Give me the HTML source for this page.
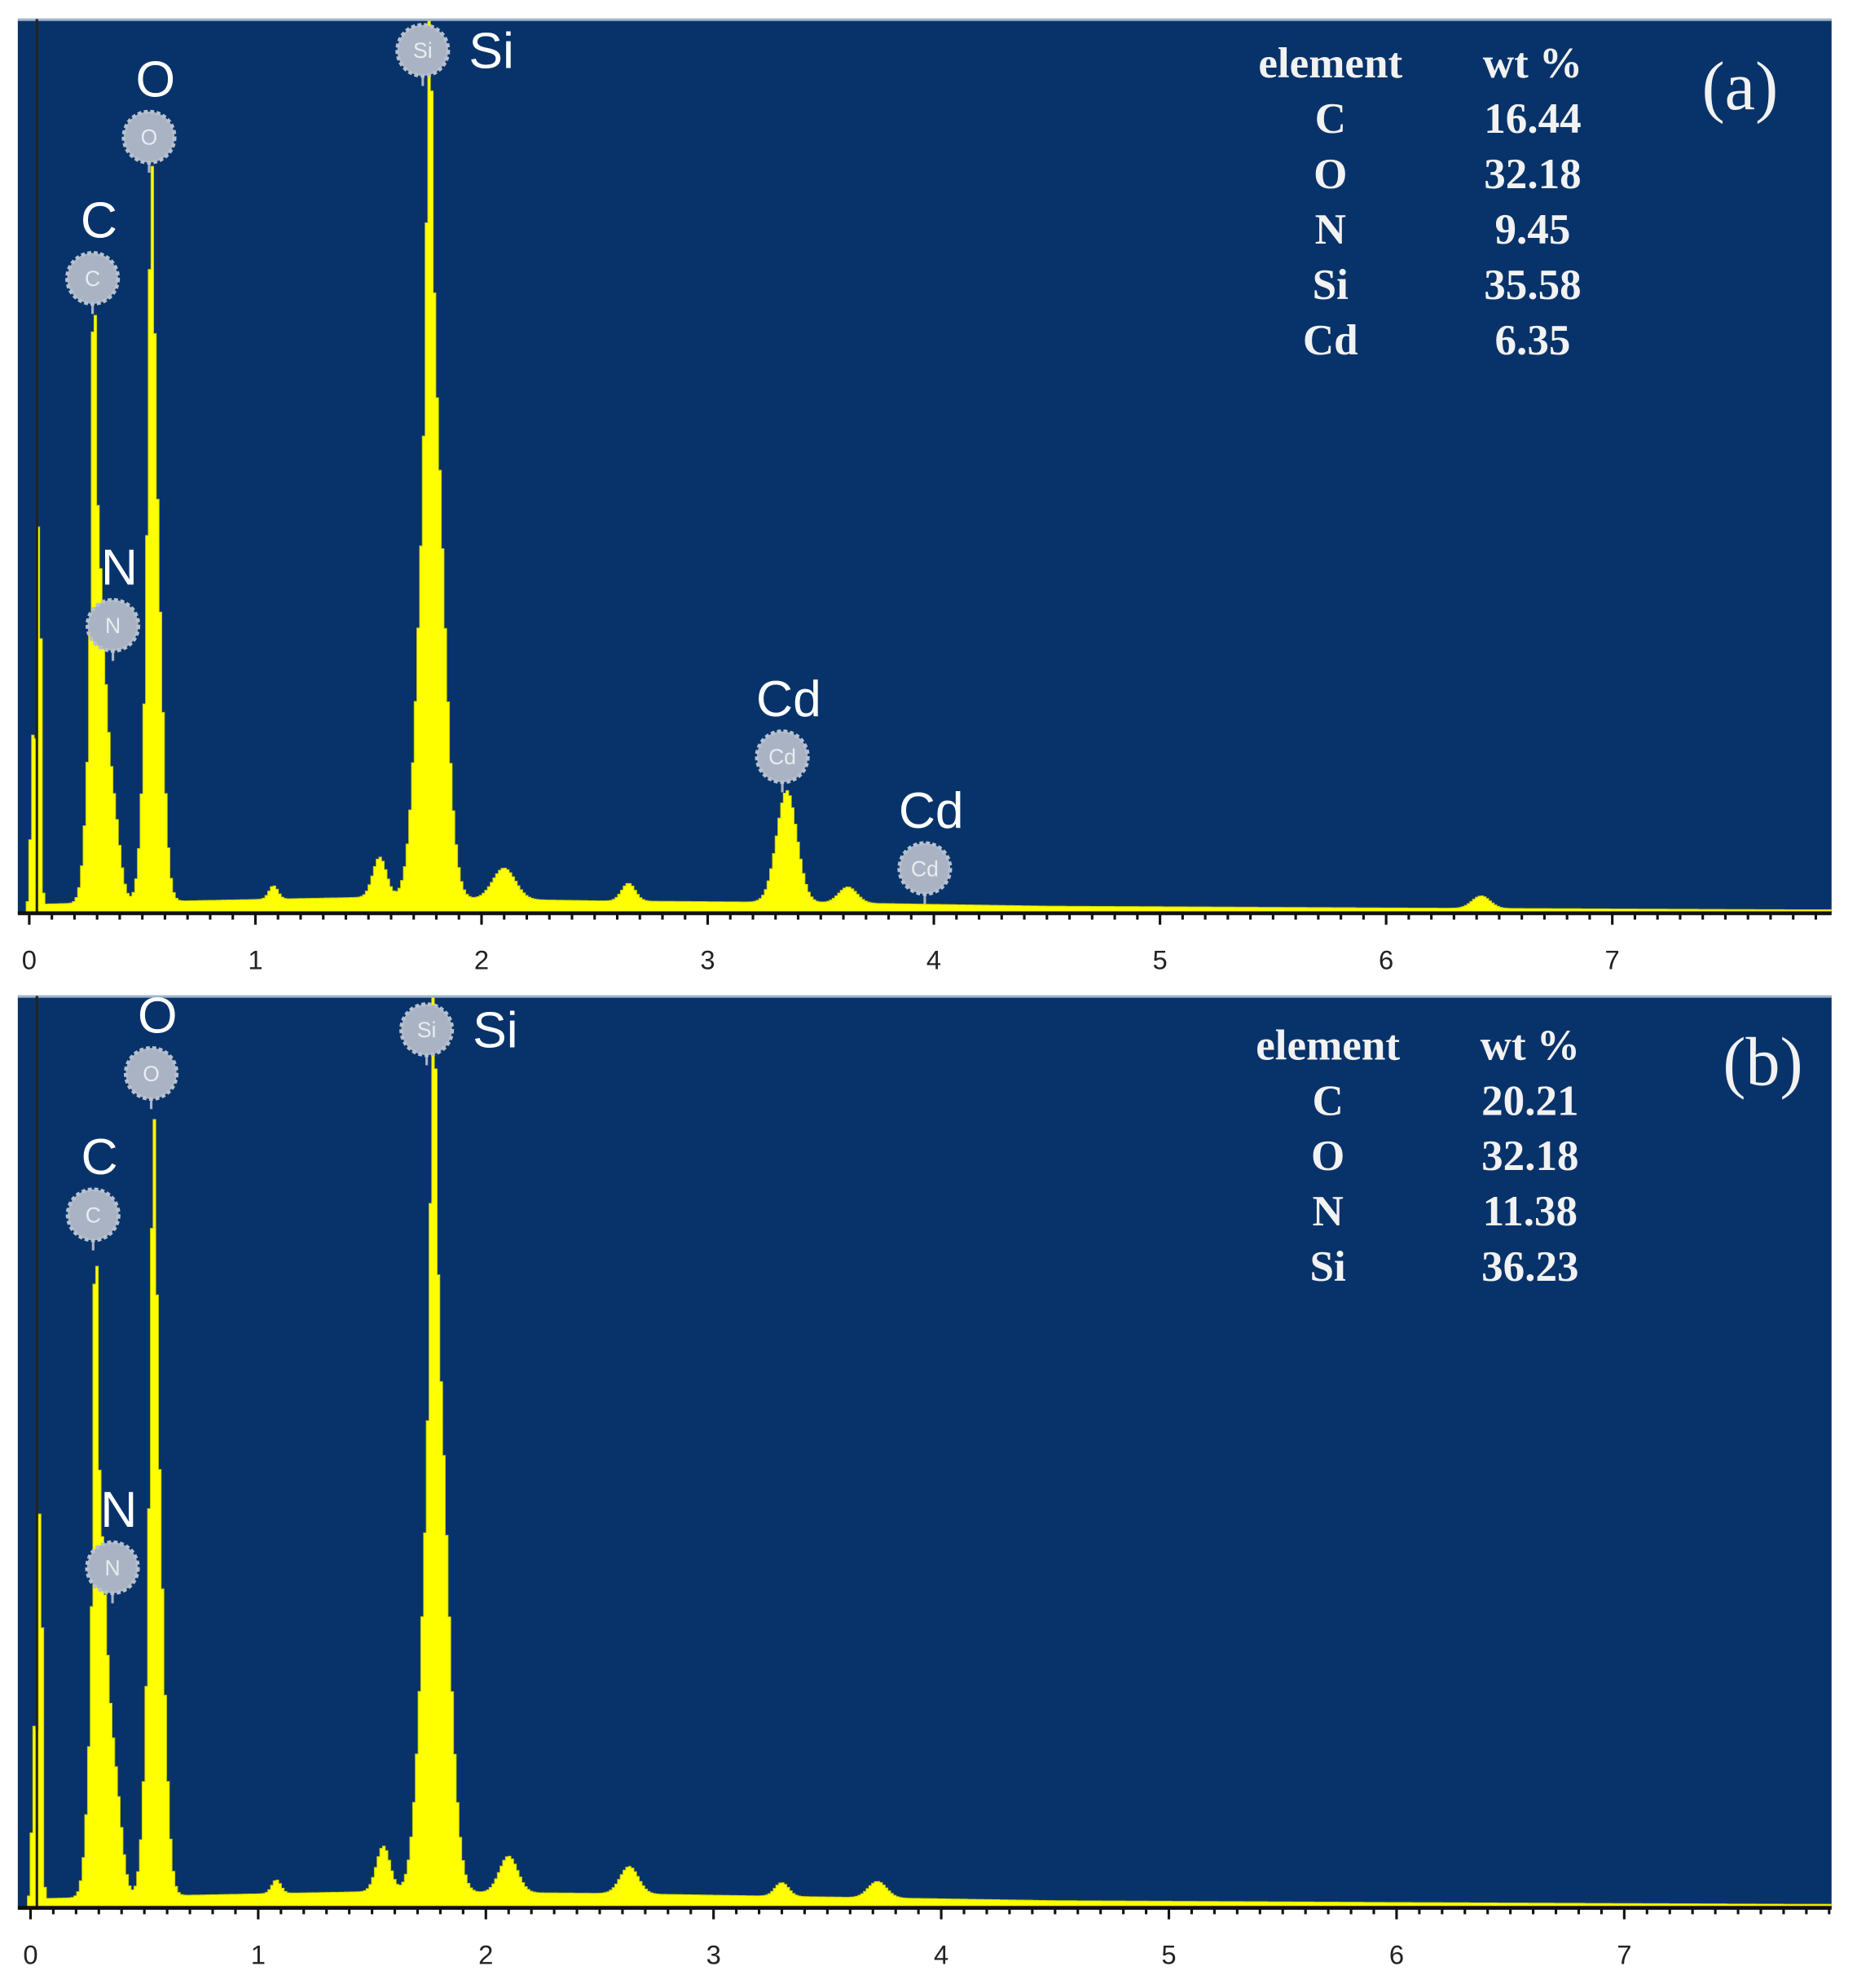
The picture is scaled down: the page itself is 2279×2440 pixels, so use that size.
<!DOCTYPE html>
<html><head><meta charset="utf-8"><title>EDS spectra</title>
<style>
html,body{margin:0;padding:0;background:#fff;}
svg{display:block;}
.tick{font-family:"Liberation Sans",sans-serif;font-size:21px;fill:#222;text-anchor:middle;}
.el{font-family:"Liberation Sans",sans-serif;font-size:40px;fill:#fff;text-anchor:middle;}
.tb{font-family:"Liberation Serif",serif;font-weight:bold;font-size:34px;fill:#f2f2f2;text-anchor:middle;}
.pl{font-family:"Liberation Serif",serif;font-size:54px;fill:#f2f2f2;text-anchor:middle;}
.mk{font-family:"Liberation Sans",sans-serif;font-size:17px;fill:#e8ecf2;text-anchor:middle;}
</style></head>
<body>
<svg id="chart" width="2279" height="2440" viewBox="0 0 1460 1563" preserveAspectRatio="none" xmlns="http://www.w3.org/2000/svg"></svg>
<script>
// ---- Data (energies in keV, heights as fraction of panel full-scale) ----
const peakEnergiesA = [0.02, 0.045, 0.285, 0.30, 0.37, 0.54, 0.55, 1.08, 1.55, 1.77, 1.78, 2.10, 2.65, 3.35, 3.62, 6.42];
const peakHeightsA  = [0.20, 0.48, 0.36, 0.40, 0.10, 0.35, 0.50, 0.015, 0.045, 0.40, 0.62, 0.035, 0.02, 0.125, 0.018, 0.014];
const peakWidthsA   = [0.012, 0.007, 0.009, 0.032, 0.03, 0.012, 0.032, 0.02, 0.03, 0.012, 0.05, 0.05, 0.03, 0.045, 0.04, 0.04];
const bgEnergiesA = [0, 0.7, 1.5, 2.5, 3.5, 4.5, 6, 7.8];
const bgLevelsA   = [0.01, 0.014, 0.018, 0.014, 0.012, 0.008, 0.006, 0.004];

const peakEnergiesB = [0.02, 0.045, 0.285, 0.30, 0.37, 0.54, 0.55, 1.08, 1.55, 1.77, 1.78, 2.10, 2.63, 3.30, 3.72];
const peakHeightsB  = [0.20, 0.48, 0.38, 0.42, 0.12, 0.36, 0.52, 0.015, 0.05, 0.40, 0.62, 0.04, 0.03, 0.015, 0.018];
const peakWidthsB   = [0.012, 0.007, 0.009, 0.032, 0.03, 0.012, 0.032, 0.02, 0.03, 0.012, 0.05, 0.04, 0.04, 0.03, 0.04];
const bgEnergiesB = [0, 0.7, 1.5, 2.5, 3.5, 4.5, 6, 7.8];
const bgLevelsB   = [0.01, 0.014, 0.018, 0.016, 0.012, 0.008, 0.006, 0.004];

const tickLabels = ["0","1","2","3","4","5","6","7"];
const tableElementsA = ["C","O","N","Si","Cd"];
const tableValuesA   = ["16.44","32.18","9.45","35.58","6.35"];
const tableElementsB = ["C","O","N","Si"];
const tableValuesB   = ["20.21","32.18","11.38","36.23"];
const markerNamesA = ["C","O","N","Si","Cd","Cd"];
const markerEnergiesA = [0.28, 0.53, 0.37, 1.74, 3.33, 3.96];
const markerLevelsA = [0.71, 0.868, 0.322, 0.965, 0.175, 0.05];
const markerNamesB = ["C","O","N","Si"];
const markerEnergiesB = [0.275, 0.53, 0.36, 1.74];
const markerLevelsB = [0.76, 0.915, 0.373, 0.963];

const NS = "http://www.w3.org/2000/svg";
const svg = document.getElementById("chart");
function mk(tag, attrs, parent){ const e=document.createElementNS(NS,tag); for(const k in attrs) e.setAttribute(k,attrs[k]); (parent||svg).appendChild(e); return e; }

function drawPanel(cfg){
  const g = mk("g",{});
  
  
  const xs = e => cfg.x0 + e*cfg.kev;
  const ys = v => cfg.base - Math.min(v,1.0)*(cfg.base-cfg.top);
  const bg = mk("rect",{x:14,y:cfg.top,width:1426,height:cfg.base-cfg.top,fill:"#08336A"},g);
  
  
  function bgAt(e){ const E=cfg.bgE,L=cfg.bgL; for(let i=0;i<E.length-1;i++){ if(e<=E[i+1]) return L[i]+(L[i+1]-L[i])*(e-E[i])/(E[i+1]-E[i]); } return L[L.length-1]; }
  const step = 0.012;
  const eMax = (1440-cfg.x0)/cfg.kev;
  let d = "M"+xs(-0.05)+","+cfg.base;
  for(let e=-0.05;e<eMax;e+=step){
    let v = e>0 ? bgAt(e) : 0;
    for(let i=0;i<cfg.pe.length;i++){ const z=(e+step/2-cfg.pe[i])/cfg.pw[i]; v+=cfg.ph[i]*Math.exp(-0.5*z*z); }
    const y = ys(v);
    const e2 = Math.min(e+step, eMax);
    d += " L"+xs(e).toFixed(1)+","+y.toFixed(1)+" L"+xs(e2).toFixed(1)+","+y.toFixed(1);
  }
  d += " L"+xs(eMax)+","+cfg.base+" Z";
  const sp = mk("path",{d:d,fill:"#FFFF00",stroke:"#c8c800","stroke-width":0.6},g);
  
  
  mk("line",{x1:14,y1:cfg.top+0.5,x2:1440,y2:cfg.top+0.5,stroke:"#9fb3cc","stroke-width":2},g);
  mk("line",{x1:29,y1:cfg.top,x2:29,y2:cfg.base,stroke:"#222","stroke-width":2},g);
  mk("line",{x1:14,y1:cfg.base,x2:1440,y2:cfg.base,stroke:"#111","stroke-width":3},g);
  for(let k=0;k<=79;k++){
    const x = xs(k/10);
    if(x>1440) break;
    mk("line",{x1:x,y1:cfg.base,x2:x,y2:cfg.base+(k%10===0?9:5),stroke:"#111","stroke-width":2},g);
  }
  tickLabels.forEach((t,i)=>{
    const tl = mk("text",{x:xs(i),y:cfg.base+44,class:"tick"},g); tl.textContent=t;
    
    
  });
  cfg.mn.forEach((n,i)=>{
    const cx = xs(cfg.me[i]), cy = ys(cfg.ml[i]);
    const m = mk("g",{},g);
    
    
    mk("line",{x1:cx,y1:cy,x2:cx,y2:cy+28,stroke:"#aab4c4","stroke-width":2},m);
    mk("circle",{cx:cx,cy:cy,r:20,fill:"#a9b3c3",stroke:"#b8c1cf","stroke-width":3,"stroke-dasharray":"3 2"},m);
    const mt = mk("text",{x:cx,y:cy+6,class:"mk"},m); mt.textContent=n;
    const lx = n==="Si" ? cx+54 : cx+5;
    const ly = n==="Si" ? cy+14 : cy-32;
    const lt = mk("text",{x:lx,y:ly,class:"el"},m); lt.textContent=n;
    
    
  });
  const tg = mk("g",{},g);
  
  
  const h1 = mk("text",{x:cfg.tx,y:cfg.ty,class:"tb"},tg); h1.textContent="element";
  const h2 = mk("text",{x:cfg.tx+159,y:cfg.ty,class:"tb"},tg); h2.textContent="wt %";
  cfg.te.forEach((t,i)=>{
    const a = mk("text",{x:cfg.tx,y:cfg.ty+43.5*(i+1),class:"tb"},tg); a.textContent=t;
    const b = mk("text",{x:cfg.tx+159,y:cfg.ty+43.5*(i+1),class:"tb"},tg); b.textContent=cfg.tv[i];
  });
  const pl = mk("text",{x:cfg.px,y:cfg.py,class:"pl"},g); pl.textContent=cfg.label;
  
  
}

drawPanel({name:"panel-a",top:15,base:718,x0:23,kev:177.8,pe:peakEnergiesA,ph:peakHeightsA,pw:peakWidthsA,bgE:bgEnergiesA,bgL:bgLevelsA,
  mn:markerNamesA,me:markerEnergiesA,ml:markerLevelsA,te:tableElementsA,tv:tableValuesA,tx:1046,ty:61,label:"(a)",px:1368,py:86});
drawPanel({name:"panel-b",top:783,base:1500,x0:24,kev:179,pe:peakEnergiesB,ph:peakHeightsB,pw:peakWidthsB,bgE:bgEnergiesB,bgL:bgLevelsB,
  mn:markerNamesB,me:markerEnergiesB,ml:markerLevelsB,te:tableElementsB,tv:tableValuesB,tx:1044,ty:833,label:"(b)",px:1386,py:853});
</script>
</body></html>
